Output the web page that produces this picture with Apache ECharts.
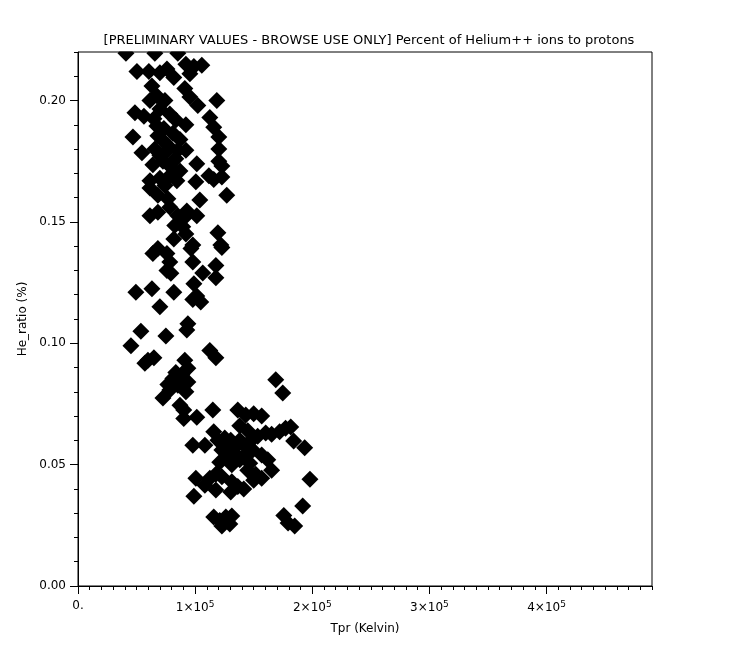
<!DOCTYPE html>
<html>
<head>
<meta charset="utf-8">
<script src="https://cdn.jsdelivr.net/npm/echarts@6/dist/echarts.min.js"></script>
<style>
html,body{margin:0;padding:0;background:#fff;}
#chart{width:730px;height:651px;}
</style>
</head>
<body>
<div id="chart"></div>
<script>
// Tpr (Kelvin)
var tprValues = [
  40900, 65600, 85200, 50300, 60500, 69900, 75900, 81800, 92100, 98900,
  105700, 95500, 63100, 67300, 61400, 91200, 95500, 102300, 118500, 48600,
  56300, 69900, 74200, 78400, 83500, 64800, 73300, 92100, 112500, 115900,
  120200, 46900, 68200, 81000, 54600, 65600, 76700, 85200, 92100, 72500,
  83500, 63900, 101400, 120200, 120200, 122800, 61400, 69900, 78400, 100600,
  111700, 115900, 122800, 61400, 127000, 68200, 76700, 104000, 92900, 78400,
  68200, 61400, 85200, 90300, 82600, 89400, 81800, 92100, 101400, 119400,
  121900, 122800, 98000, 96400, 68200, 75900, 63900, 78400, 98000, 75900,
  106500, 117700, 117700, 79300, 98900, 49400, 63100, 81800, 101400, 104800,
  69900, 98000, 93800, 92900, 53700, 45200, 75000, 112500, 117700, 59700,
  64800, 91200, 57100, 93800, 88700, 83500, 81000, 76700, 85200, 93800,
  92100, 72500, 78400, 87000, 90300, 90300, 98000, 115100, 101400, 168800,
  174800, 108300, 115900, 119400, 125300, 130400, 136400, 143200, 150000, 156800,
  138100, 144900, 153400, 160200, 165300, 172100, 177200, 181600, 184100, 193500,
  122800, 128000, 133800, 142400, 149200, 121000, 131300, 138100, 146600, 156800,
  162000, 144900, 151700, 156800, 165300, 150000, 198000, 100600, 112500, 117700,
  122800, 108300, 117700, 131300, 136400, 141500, 130400, 98900, 191800, 115900,
  121000, 126200, 131300, 122800, 129600, 175700, 179300, 185000,
  72500, 76700, 69900, 78400, 87000, 84400, 74200, 87000, 67300,
  138100, 133000, 142400, 126200, 146600
];
// He_ratio (%)
var heRatioValues = [
  0.2195, 0.2195, 0.2195, 0.212, 0.212, 0.2115, 0.213, 0.2095, 0.215, 0.214,
  0.2145, 0.211, 0.206, 0.202, 0.200, 0.205, 0.2015, 0.198, 0.200, 0.195,
  0.1935, 0.1965, 0.200, 0.1945, 0.192, 0.1925, 0.1885, 0.190, 0.193, 0.189,
  0.185, 0.185, 0.1855, 0.1865, 0.1785, 0.180, 0.1795, 0.1795, 0.1795, 0.175,
  0.176, 0.1735, 0.174, 0.180, 0.175, 0.173, 0.167, 0.168, 0.169, 0.1665,
  0.169, 0.1675, 0.1685, 0.164, 0.161, 0.161, 0.1595, 0.159, 0.1545, 0.156,
  0.154, 0.1525, 0.1525, 0.1515, 0.1485, 0.148, 0.143, 0.145, 0.1525, 0.1455,
  0.1405, 0.1395, 0.1405, 0.139, 0.139, 0.137, 0.137, 0.1335, 0.1335, 0.130,
  0.129, 0.132, 0.127, 0.1288, 0.1245, 0.121, 0.1225, 0.121, 0.1195, 0.117,
  0.115, 0.118, 0.108, 0.1055, 0.105, 0.099, 0.103, 0.097, 0.094, 0.093,
  0.094, 0.093, 0.0918, 0.0897, 0.087, 0.088, 0.0855, 0.083, 0.0827, 0.084,
  0.080, 0.0775, 0.0807, 0.0745, 0.0725, 0.069, 0.058, 0.0725, 0.0695, 0.085,
  0.0795, 0.058, 0.0635, 0.060, 0.061, 0.060, 0.0725, 0.0705, 0.071, 0.070,
  0.066, 0.064, 0.0617, 0.063, 0.0625, 0.0635, 0.065, 0.0655, 0.0597, 0.057,
  0.056, 0.054, 0.057, 0.058, 0.056, 0.051, 0.050, 0.052, 0.0506, 0.054,
  0.052, 0.0477, 0.046, 0.0444, 0.0477, 0.0436, 0.044, 0.0444, 0.0444, 0.046,
  0.045, 0.0415, 0.0395, 0.043, 0.041, 0.040, 0.0387, 0.037, 0.033, 0.0284,
  0.027, 0.0284, 0.0288, 0.0247, 0.0255, 0.029, 0.026, 0.0247,
  0.1835, 0.1815, 0.1775, 0.173, 0.171, 0.167, 0.165, 0.184, 0.1895,
  0.060, 0.055, 0.054, 0.058, 0.0593
];
var xMajorTicks = [0, 100000, 200000, 300000, 400000];
var yMajorTicks = [0, 0.05, 0.10, 0.15, 0.20];

var points = tprValues.map(function (t, i) { return [t, heRatioValues[i]]; });

var font = 'DejaVu Sans';
var chart = echarts.init(document.getElementById('chart'));
var gridBox = { left: 78, right: 78, top: 52, bottom: 65 };

var option = {
  backgroundColor: '#fff',
  animation: false,
  title: {
    text: '[PRELIMINARY VALUES - BROWSE USE ONLY] Percent of Helium++ ions to protons',
    left: 364, top: 29, textAlign: 'center', z: 20,
    textStyle: { fontFamily: font, fontSize: 13, fontWeight: 'normal', color: '#000' }
  },
  // white band above the plot so markers are cut at the frame like in the original
  graphic: [{
    type: 'rect', z: 10,
    shape: { x: 60, y: 44, width: 610, height: 7.5 },
    style: { fill: '#fff' }
  }],
  grid: [
    Object.assign({ show: true, borderColor: '#000', borderWidth: 1, backgroundColor: 'transparent', z: 12 }, gridBox),
    Object.assign({ show: false }, gridBox)
  ],
  xAxis: [{
    gridIndex: 0, type: 'value', min: 0, max: 490000, interval: 100000,
    name: 'Tpr (Kelvin)', nameLocation: 'middle', nameGap: 37,
    nameTextStyle: { fontFamily: font, fontSize: 12, color: '#000' },
    axisLine: { lineStyle: { color: '#000', width: 1 } },
    axisTick: { length: 8, lineStyle: { color: '#000' }, customValues: xMajorTicks },
    splitLine: { show: false },
    axisLabel: {
      customValues: xMajorTicks, margin: 14, color: '#000', fontFamily: font, fontSize: 12,
      formatter: function (v) {
        if (v === 0) return '0.';
        return (v / 100000) + '\u00d710{sup|5}';
      },
      rich: { sup: { fontSize: 9, verticalAlign: 'top', padding: [0, 0, 6, 0], fontFamily: font, color: '#000' } }
    }
  }, {
    gridIndex: 1, type: 'value', min: 0, max: 490000, interval: 10000,
    axisLine: { show: false }, axisLabel: { show: false }, splitLine: { show: false },
    axisTick: { length: 4, lineStyle: { color: '#000' } }
  }],
  yAxis: [{
    gridIndex: 0, type: 'value', min: 0, max: 0.22, interval: 0.05,
    name: 'He_ratio (%)', nameLocation: 'middle', nameGap: 49,
    nameTextStyle: { fontFamily: font, fontSize: 12, color: '#000' },
    axisLine: { show: true, lineStyle: { color: '#000', width: 1 } },
    axisTick: { show: true, length: 8, lineStyle: { color: '#000' }, customValues: yMajorTicks },
    splitLine: { show: false },
    axisLabel: {
      customValues: yMajorTicks, margin: 12, color: '#000', fontFamily: font, fontSize: 12,
      formatter: function (v) { return v.toFixed(2); }
    }
  }, {
    gridIndex: 1, type: 'value', min: 0, max: 0.22, interval: 0.01,
    axisLine: { show: false }, axisLabel: { show: false }, splitLine: { show: false },
    axisTick: { show: true, length: 4, lineStyle: { color: '#000' } }
  }],
  series: [{
    type: 'scatter',
    xAxisIndex: 0, yAxisIndex: 0,
    symbol: 'diamond',
    symbolSize: 17,
    itemStyle: { color: '#000', opacity: 1 },
    data: points
  }]
};
chart.setOption(option);
</script>
</body>
</html>
